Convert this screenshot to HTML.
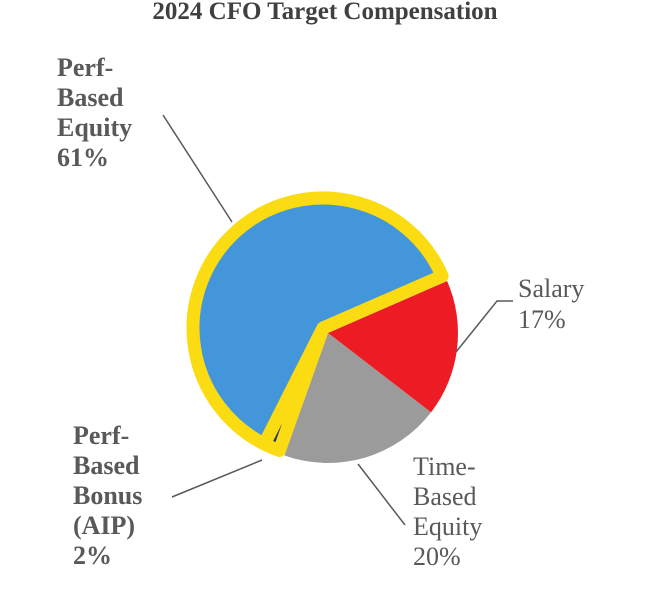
<!DOCTYPE html>
<html><head><meta charset="utf-8"><style>
body{margin:0;background:#fff}
svg text{font-family:"Liberation Serif","Times New Roman",serif;font-size:26px;fill:#595959}
</style></head><body>
<svg width="650" height="600">
<text x="325" y="19" text-anchor="middle" font-weight="bold" style="font-size:25px;fill:#404040">2024 CFO Target Compensation</text>
<g id="slices"></g>
<g id="lines" stroke="#595959" stroke-width="1.5" fill="none">
<polyline points="163,115 232,222"/>
<polyline points="456,352 497,301 513,301"/>
<polyline points="358,464 405,525"/>
<polyline points="172,497 262,460"/>
</g>
<g>
<text x="57" y="76" font-weight="bold">Perf-</text><text x="57" y="106" font-weight="bold">Based</text><text x="57" y="136" font-weight="bold">Equity</text><text x="57" y="166" font-weight="bold">61%</text></g>
<g><text x="518" y="297">Salary</text><text x="518" y="328">17%</text></g>
<g><text x="413" y="475">Time-</text><text x="413" y="505">Based</text><text x="413" y="535">Equity</text><text x="413" y="565">20%</text></g>
<g><text x="73" y="444" font-weight="bold">Perf-</text><text x="73" y="474" font-weight="bold">Based</text><text x="73" y="504" font-weight="bold">Bonus</text><text x="73" y="534" font-weight="bold">(AIP)</text><text x="73" y="564" font-weight="bold">2%</text></g>
</svg>
<script>
const categories=["Salary","Time-Based Equity","Perf-Based Bonus (AIP)","Perf-Based Equity"];
const values=[17,20,2,61];
const colors=["#ED1C24","#9B9B9B","#1F3864","#4496DA"];
const highlighted=[false,false,true,true];
const startDeg=66.4;
const g=document.getElementById('slices');
const ns="http://www.w3.org/2000/svg";
const total=values.reduce((a,b)=>a+b,0);
let a=startDeg;
const r=130;
const order=[0,1,3,2];
const paths=[];
values.forEach((v,i)=>{
  const a0=a, a1=a+v/total*360; a=a1;
  const hl=highlighted[i];
  const cx=hl?323:328, cy=hl?328:333;
  const p=d=>[cx+r*Math.sin(d*Math.PI/180), cy-r*Math.cos(d*Math.PI/180)];
  const s=p(a0), e=p(a1);
  const large=(a1-a0)>180?1:0;
  const path=document.createElementNS(ns,'path');
  path.setAttribute('d',`M${cx},${cy}L${s[0]},${s[1]}A${r},${r} 0 ${large} 1 ${e[0]},${e[1]}Z`);
  path.setAttribute('fill',colors[i]);
  if(hl){path.setAttribute('stroke','#FBDB12');path.setAttribute('stroke-width','13');path.setAttribute('stroke-linejoin','round');}
  
  
  paths[i]=path;
});
order.forEach(i=>g.appendChild(paths[i]));
</script>
</body></html>
